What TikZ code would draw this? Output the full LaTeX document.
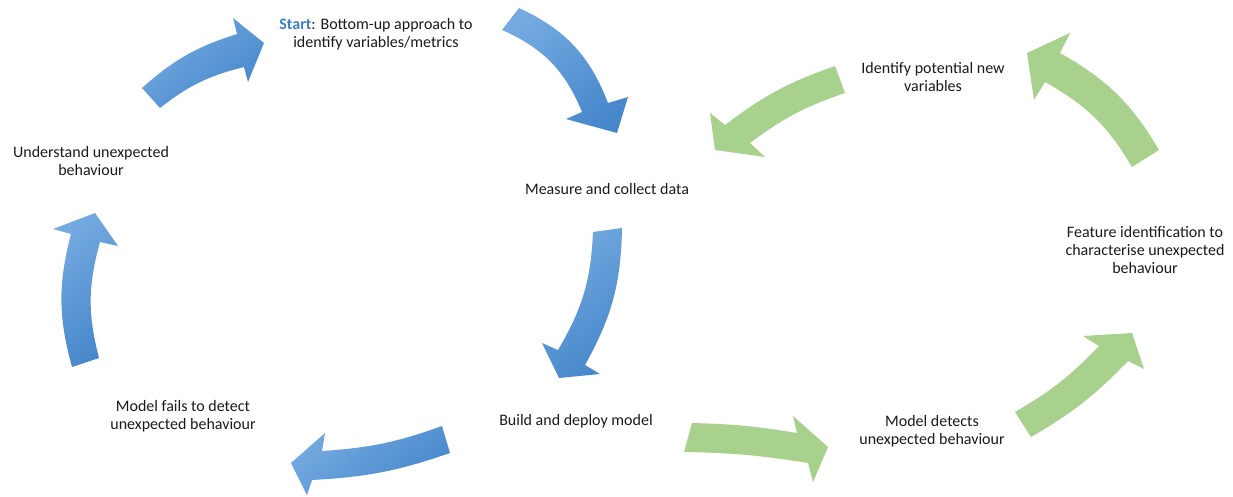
\documentclass[tikz,border=0pt]{standalone}
\usepackage{fontspec}
\setmainfont{Carlito}
\definecolor{blueL}{HTML}{74AAE0}
\definecolor{blueD}{HTML}{4787CB}
\definecolor{greenA}{HTML}{A9D18E}
\definecolor{txt}{HTML}{1A1A1A}
\definecolor{startblue}{HTML}{3F7FC1}
\tikzset{
  lbl/.style={align=center, inner sep=0pt, text=txt, font=\fontsize{16}{18}\selectfont},
  bluearrow/.style={top color=blueL, bottom color=blueD, shading angle=40, draw=none},
  greenarrow/.style={fill=greenA, draw=none},
}
\begin{document}
\begin{tikzpicture}[x=1pt,y=-1pt]
\useasboundingbox (0,0) rectangle (1233,496);
% blue arrows
\shade[bluearrow] (142,88) to[bend left=12] (237,34) -- (233,18) -- (264,43) -- (248,82) -- (244,67) to[bend right=12] (160,108) -- cycle;
\shade[bluearrow] (519,8) to[bend left=22] (608,103) -- (628,97) -- (617,133) -- (566,119) -- (582,112) to[bend right=22] (502,30) -- cycle;
\shade[bluearrow] (622,228) to[bend left=14] (585,365) -- (600,374) -- (559,378) -- (542,343) -- (558,350) to[bend right=14] (593,232) -- cycle;
\shade[bluearrow] (450,453) to[bend left=8] (312,480) -- (307,495) -- (291,463) -- (325,433) -- (322,451) to[bend right=8] (442,426) -- cycle;
\shade[bluearrow] (72,367) to[bend left=15] (71,234) -- (53,229) -- (95,213) -- (118,246) -- (100,242) to[bend right=15] (99,358) -- cycle;
% green arrows
\fill[greenarrow] (692,423) to[bend left=4] (797,433) -- (793,416) -- (828,447) -- (813,482) -- (808,463) to[bend right=4] (684,452) -- cycle;
\fill[greenarrow] (1031,437) to[bend right=8] (1128,361) -- (1144,369) -- (1132,333) -- (1083,336) -- (1099,346) to[bend left=8] (1015,412) -- cycle;
\fill[greenarrow] (1159,150) to[bend right=15] (1060,53) -- (1070,33) -- (1027,53) -- (1034,100) -- (1045,82) to[bend left=15] (1132,167) -- cycle;
\fill[greenarrow] (835,66) to[bend right=9] (725,125) -- (710,113) -- (715,150) -- (765,157) -- (750,143) to[bend left=9] (845,93) -- cycle;
% labels
\node[lbl] (start) at (376,34) {{\bfseries\color{startblue}Start}: Bottom-up approach to\\identify variables/metrics};
\node[lbl] (measure) at (607,189) {Measure and collect data};
\node[lbl] (build) at (576,421) {Build and deploy model};
\node[lbl] (fails) at (183,416) {Model fails to detect\\unexpected behaviour};
\node[lbl] (understand) at (91,161) {Understand unexpected\\behaviour};
\node[lbl] (detects) at (932,431) {Model detects\\unexpected behaviour};
\node[lbl] (feature) at (1145,250) {Feature identification to\\characterise unexpected\\behaviour};
\node[lbl] (identify) at (933,77) {Identify potential new\\variables};
\end{tikzpicture}
\end{document}
